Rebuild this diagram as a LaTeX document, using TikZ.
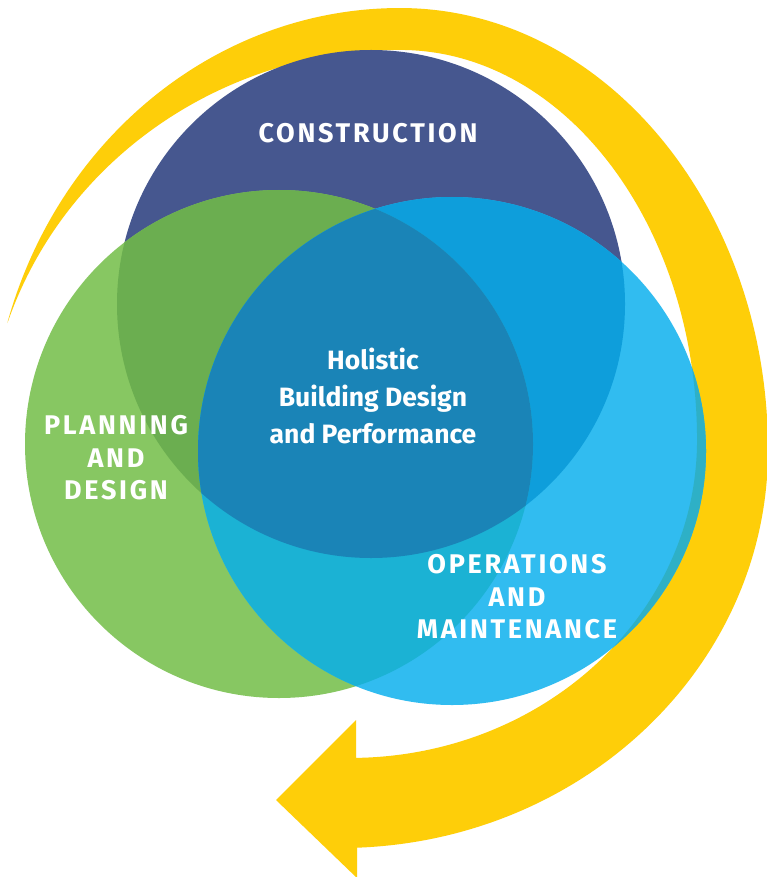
\documentclass[tikz,border=0pt]{standalone}
\usepackage{fontspec}
\setmainfont{Fira Sans}
\newfontfamily\capsfont[LetterSpace=10]{Fira Sans}
\definecolor{cYel}{RGB}{254,206,9}
\definecolor{cDark}{RGB}{70,87,143}
\definecolor{cGreen}{RGB}{135,199,98}
\definecolor{cBlue}{RGB}{49,188,240}
\definecolor{cDG}{RGB}{107,174,80}
\definecolor{cDB}{RGB}{14,158,219}
\definecolor{cGB}{RGB}{27,178,212}
\definecolor{cAll}{RGB}{26,132,183}
\definecolor{cTeal}{RGB}{46,176,198}
\newcommand\yelpath{(7.9,320.8)
 arc[start angle=163, end angle=90, x radius=410pt, y radius=442pt]
 arc[start angle=90, end angle=0, x radius=368pt, y radius=442pt]
 arc[start angle=0, end angle=-87.7, x radius=428pt, y radius=398pt]
 -- (357,878) -- (276,800) -- (356,720) -- (356.1,757.9)
 arc[start angle=-89, end angle=0, x radius=347pt, y radius=318pt]
 arc[start angle=0, end angle=90, x radius=297pt, y radius=390pt]
 arc[start angle=90, end angle=161.5, x radius=414pt, y radius=400pt]
 -- cycle}
\newcommand\cdark{(371,304) circle [radius=254pt]}
\newcommand\cgreen{(279,444) circle [radius=254pt]}
\newcommand\cblue{(452,451) circle [radius=254pt]}
\tikzset{
  caplbl/.style={text=white, align=center, inner sep=0pt, font=\capsfont\bfseries\fontsize{27}{32.5}\selectfont},
  mainlbl/.style={text=white, align=center, inner sep=0pt, font=\bfseries\fontsize{26.5}{37}\selectfont}
}
\begin{document}
\begin{tikzpicture}[x=1pt,y=-1pt]
\useasboundingbox (0,0) rectangle (767,877);
\fill[white] (0,0) rectangle (767,877);
\fill[cYel] \yelpath;
\fill[cDark] \cdark;
\fill[cGreen] \cgreen;
\fill[cBlue] \cblue;
\begin{scope}\clip \cdark; \fill[cDG] \cgreen; \end{scope}
\begin{scope}\clip \cdark; \fill[cDB] \cblue; \end{scope}
\begin{scope}\clip \cgreen; \fill[cGB] \cblue; \end{scope}
\begin{scope}\clip \cdark; \clip \cgreen; \fill[cAll] \cblue; \end{scope}
\begin{scope}\clip \cblue; \fill[cTeal] \yelpath; \end{scope}
\node[caplbl] (con) at (368,133) {CONSTRUCTION};
\node[caplbl] (pla) at (116,458) {PLANNING\\AND\\DESIGN};
\node[caplbl] (ops) at (517,597) {OPERATIONS\\AND\\MAINTENANCE};
\node[mainlbl] (hol) at (373,396) {Holistic\\Building Design\\and Performance};
\end{tikzpicture}
\end{document}
